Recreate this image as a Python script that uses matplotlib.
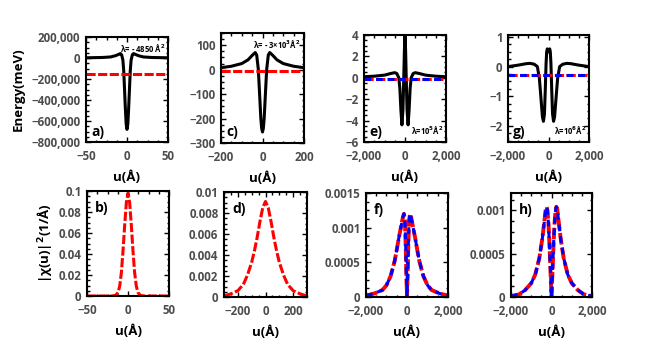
import matplotlib
matplotlib.use('Agg')
import matplotlib.pyplot as plt
import matplotlib.ticker as ticker

plt.rcParams['font.family'] = ['Open Sans', 'DejaVu Sans']
plt.rcParams['font.weight'] = 'bold'

# ---- top row: potential energy (black) and level (dashed) ----
ua = [-50, -30, -20, -14, -10, -8, -6.5, -5, -4, -3, -2, -1, 0,
      1, 2, 3, 4, 5, 6.5, 8, 10, 14, 20, 30, 50]
ea = [2000, 5000, 10000, 22000, 35000, 42000, 30000, -20000, -120000, -300000, -480000, -630000, -680000,
      -630000, -480000, -300000, -120000, -20000, 30000, 42000, 35000, 22000, 10000, 5000, 2000]
level_a = -155000

uc = [-200, -150, -100, -70, -50, -35, -28, -20, -14, -8, -4, 0,
      4, 8, 14, 20, 28, 35, 50, 70, 100, 150, 200]
ec = [8, 14, 25, 40, 58, 70, 60, 0, -100, -200, -240, -255,
      -240, -200, -100, 0, 60, 70, 58, 40, 25, 14, 8]
level_c = -5

ue = [-2000, -1500, -1000, -700, -500, -400, -300, -250, -200, -150, -100, -60, -30, 0,
      30, 60, 100, 150, 200, 250, 300, 400, 500, 700, 1000, 1500, 2000]
ee = [0.1, 0.15, 0.25, 0.4, 0.48, 0.4, 0.0, -1.0, -3.0, -4.4, -3.0, 0.0, 2.5, 3.9,
      2.5, 0.0, -3.0, -4.4, -3.0, -1.0, 0.0, 0.4, 0.48, 0.4, 0.25, 0.15, 0.1]
level_e_red = -0.15
level_e_blue = -0.1

ug = [-2000, -1500, -1100, -900, -700, -550, -450, -380, -300, -250, -200, -160, -120, -90, -60, -30, 0,
      30, 60, 90, 120, 160, 200, 250, 300, 380, 450, 550, 700, 900, 1100, 1500, 2000]
eg = [0.0, 0.05, 0.1, 0.11, 0.08, 0.0, -0.4, -1.0, -1.7, -1.85, -1.6, -0.8, 0.1, 0.5, 0.6, 0.55, 0.5,
      0.55, 0.6, 0.5, 0.1, -0.8, -1.6, -1.85, -1.7, -1.0, -0.4, 0.0, 0.08, 0.11, 0.1, 0.05, 0.0]
level_g = -0.29

# ---- bottom row: probability densities ----
ub = [-50, -20, -15, -12, -10, -8, -6, -4, -2, 0, 2, 4, 6, 8, 10, 12, 15, 20, 50]
pb = [0, 0, 0.0006, 0.0035, 0.01, 0.023, 0.044, 0.068, 0.089, 0.098,
      0.089, 0.068, 0.044, 0.023, 0.01, 0.0035, 0.0006, 0, 0]

ud = [-300, -250, -200, -160, -130, -100, -80, -60, -40, -20, 0,
      20, 40, 60, 80, 100, 130, 160, 200, 250, 300]
pd = [0.0001, 0.0003, 0.0006, 0.0012, 0.0021, 0.0033, 0.0044, 0.0057, 0.0072, 0.0085, 0.0091,
      0.0085, 0.0072, 0.0057, 0.0044, 0.0033, 0.0021, 0.0012, 0.0006, 0.0003, 0.0001]

uf = [-2000, -1600, -1200, -1000, -800, -600, -500, -400, -300, -200, -150, -100, -60, -30, 0,
      30, 60, 100, 150, 200, 300, 400, 500, 600, 800, 1000, 1200, 1600, 2000]
pf = [0.00002, 0.00005, 0.0001, 0.00017, 0.0003, 0.00052, 0.00068, 0.00085, 0.001, 0.00115, 0.0012,
      0.0011, 0.0007, 0.0003, 0.0,
      0.0003, 0.0007, 0.0011, 0.0012, 0.00115, 0.001, 0.00085, 0.00068, 0.00052, 0.0003, 0.00017,
      0.0001, 0.00005, 0.00002]

uh = [-2000, -1600, -1300, -1000, -800, -600, -450, -350, -280, -240, -200, -150, -100, -50, 0,
      50, 100, 150, 200, 240, 280, 350, 450, 600, 800, 1000, 1300, 1600, 2000]
ph = [0.00001, 0.00003, 0.00008, 0.00016, 0.00026, 0.00045, 0.00068, 0.00088, 0.00102, 0.00104,
      0.001, 0.00085, 0.0006, 0.0003, 0.0,
      0.0003, 0.0006, 0.00085, 0.001, 0.00104, 0.00102, 0.00088, 0.00068, 0.00045, 0.00026,
      0.00016, 0.00008, 0.00003, 0.00001]

W, H = 662, 351
fig = plt.figure(figsize=(W / 100, H / 100), dpi=100)


def box(x0, x1, y0, y1):
    return fig.add_axes([x0 / W, 1 - y1 / H, (x1 - x0) / W, (y1 - y0) / H])


ax_a = box(86, 168, 37, 142)
ax_c = box(221, 304, 33, 143)
ax_e = box(364, 446, 35, 142)
ax_g = box(508, 589, 35, 142)
ax_b = box(87, 169, 191, 296)
ax_d = box(224, 307, 192, 297)
ax_f = box(366, 448, 193, 297)
ax_h = box(511, 592, 193, 297)

lw = 2.2
dash = (3, 0.8)
grey = '#4d4d4d'


def style(ax, xlim, ylim, xt, yt, fmt=None):
    ax.set_xlim(*xlim)
    ax.set_ylim(*ylim)
    ax.set_xticks(xt)
    ax.set_yticks(yt)
    ax.xaxis.set_minor_locator(ticker.AutoMinorLocator(4))
    ax.yaxis.set_minor_locator(ticker.AutoMinorLocator(4))
    ax.tick_params(which='both', direction='in', top=True, right=True,
                   width=1.0, colors='black', labelcolor=grey, labelsize=8.3)
    ax.tick_params(axis='x', pad=6)
    ax.tick_params(axis='y', pad=4)
    ax.tick_params(which='major', length=3.5)
    ax.tick_params(which='minor', length=1.8)
    for s in ax.spines.values():
        s.set_linewidth(1.5)
    ax.xaxis.set_major_formatter(ticker.FuncFormatter(
        lambda v, p: f'{int(round(v)):,}'.replace('-', '\u2212')))
    if fmt is None:
        ax.yaxis.set_major_formatter(ticker.FuncFormatter(
            lambda v, p: f'{int(round(v)):,}'.replace('-', '\u2212')))
    else:
        ax.yaxis.set_major_formatter(ticker.FuncFormatter(fmt))
    ax.set_xlabel('u(Å)', fontsize=9.5, fontweight='bold', labelpad=5)


def dec(v, p):
    s = f'{v:.4f}'.rstrip('0').rstrip('.')
    return s.replace('-', '\u2212')


# top row
ax_a.plot(ua, ea, color='black', lw=lw)
ax_a.plot([ua[0], ua[-1]], [level_a, level_a], color='red', lw=lw, dashes=dash)
style(ax_a, (-50, 50), (-800000, 200000), [-50, 0, 50], list(range(-800000, 200001, 200000)))
ax_a.set_ylabel('Energy(meV)', fontsize=9.5, fontweight='bold', labelpad=5)
ax_a.text(0.97, 0.95, 'λ= - 4850 Å$^2$', transform=ax_a.transAxes, ha='right', va='top', fontsize=5.5)
ax_a.text(0.06, 0.06, 'a)', transform=ax_a.transAxes, fontsize=10)

ax_c.plot(uc, ec, color='black', lw=lw)
ax_c.plot([uc[0], uc[-1]], [level_c, level_c], color='red', lw=lw, dashes=dash)
style(ax_c, (-200, 200), (-300, 150), [-200, 0, 200], [-300, -200, -100, 0, 100])
ax_c.text(0.96, 0.95, 'λ= - 3×10$^3$Å$^2$', transform=ax_c.transAxes, ha='right', va='top', fontsize=5.5)
ax_c.text(0.06, 0.06, 'c)', transform=ax_c.transAxes, fontsize=10)

ax_e.plot(ue, ee, color='black', lw=lw)
ax_e.plot([ue[0], ue[-1]], [level_e_red, level_e_red], color='red', lw=lw, dashes=dash)
ax_e.plot([ue[0], ue[-1]], [level_e_blue, level_e_blue], color='blue', lw=lw, dashes=(2.2, 1.6))
style(ax_e, (-2000, 2000), (-6, 4), [-2000, 0, 2000], [-6, -4, -2, 0, 2, 4])
ax_e.text(0.97, 0.05, 'λ=10$^5$Å$^2$', transform=ax_e.transAxes, ha='right', va='bottom', fontsize=5.5)
ax_e.text(0.06, 0.06, 'e)', transform=ax_e.transAxes, fontsize=10)

ax_g.plot(ug, eg, color='black', lw=lw)
ax_g.plot([ug[0], ug[-1]], [level_g, level_g], color='red', lw=lw, dashes=dash)
ax_g.plot([ug[0], ug[-1]], [level_g, level_g], color='blue', lw=lw, dashes=(2.2, 1.6))
style(ax_g, (-2000, 2000), (-2.55, 1.07), [-2000, 0, 2000], [-2, -1, 0, 1])
ax_g.text(0.97, 0.05, 'λ=10$^6$Å$^2$', transform=ax_g.transAxes, ha='right', va='bottom', fontsize=5.5)
ax_g.text(0.06, 0.06, 'g)', transform=ax_g.transAxes, fontsize=10)

# bottom row
ax_b.plot(ub, pb, color='red', lw=lw, dashes=dash)
style(ax_b, (-50, 50), (0, 0.1), [-50, 0, 50], [0, 0.02, 0.04, 0.06, 0.08, 0.1], dec)
ax_b.set_ylabel('|χ(u)|$^2$(1/Å)', fontsize=9.5, fontweight='bold', labelpad=3)
ax_b.text(0.1, 0.8, 'b)', transform=ax_b.transAxes, fontsize=10)

ax_d.plot(ud, pd, color='red', lw=lw, dashes=dash)
style(ax_d, (-300, 300), (0, 0.01), [-200, 0, 200], [0, 0.002, 0.004, 0.006, 0.008, 0.01], dec)
ax_d.text(0.1, 0.8, 'd)', transform=ax_d.transAxes, fontsize=10)

ax_f.plot(uf, pf, color='red', lw=lw + 0.6, dashes=dash)
ax_f.plot(uf, pf, color='blue', lw=lw, dashes=(2.2, 1.6))
style(ax_f, (-2000, 2000), (0, 0.0015), [-2000, 0, 2000], [0, 0.0005, 0.001, 0.0015], dec)
ax_f.text(0.1, 0.8, 'f)', transform=ax_f.transAxes, fontsize=10)

ax_h.plot(uh, ph, color='red', lw=lw + 0.6, dashes=dash)
ax_h.plot(uh, ph, color='blue', lw=lw, dashes=(2.2, 1.6))
style(ax_h, (-2000, 2000), (0, 0.0012), [-2000, 0, 2000], [0, 0.0005, 0.001], dec)
ax_h.text(0.1, 0.8, 'h)', transform=ax_h.transAxes, fontsize=10)

plt.savefig('out.png', dpi=100)
